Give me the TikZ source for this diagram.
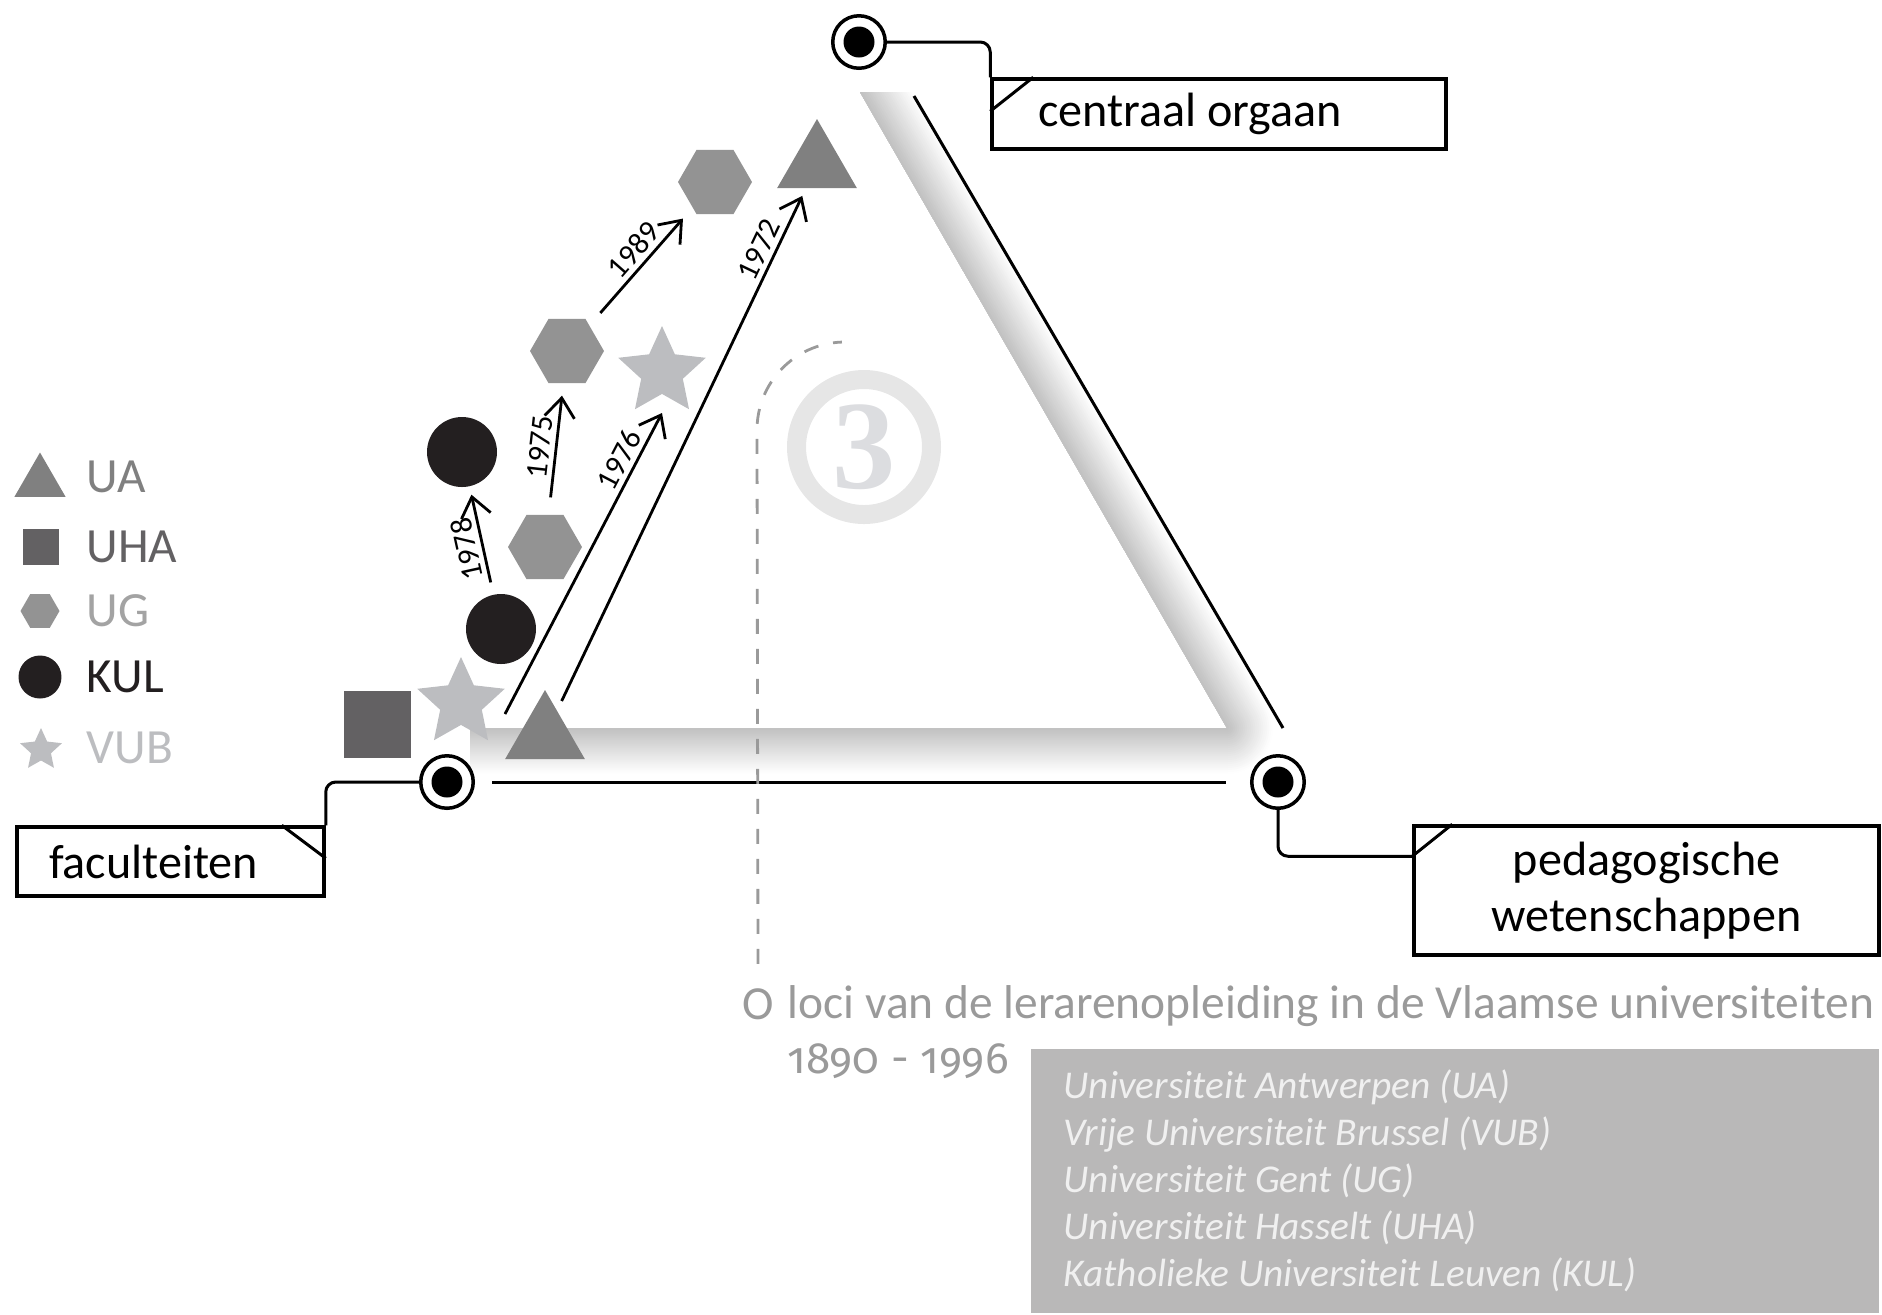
\documentclass[tikz,border=0pt]{standalone}
\usepackage{fontspec}
\setmainfont{Carlito}
\newfontfamily\oldstyle{Fira Sans}[Numbers=OldStyle]
\newfontfamily\ringfont{Liberation Serif}
\usepackage{tikz}
\usetikzlibrary{shapes.geometric}
\usetikzlibrary{arrows.meta}

\definecolor{uagray}{HTML}{808080}
\definecolor{uhagray}{HTML}{636163}
\definecolor{uggray}{HTML}{939393}
\definecolor{kulblack}{HTML}{231F20}
\definecolor{vubgray}{HTML}{BCBDC0}
\definecolor{ringgray}{HTML}{E6E6E6}
\definecolor{numgray}{HTML}{DCDDE0}
\definecolor{captiongray}{HTML}{9A9A9A}
\definecolor{boxgray}{HTML}{B9B8B8}

\tikzset{
  ua/.style={regular polygon, regular polygon sides=3, fill=uagray, inner sep=0pt},
  uha/.style={rectangle, fill=uhagray, inner sep=0pt},
  ug/.style={regular polygon, regular polygon sides=6, fill=uggray, inner sep=0pt},
  kul/.style={circle, fill=kulblack, inner sep=0pt},
  vub/.style={star, star points=5, star point ratio=2.1, fill=vubgray, inner sep=0pt},
  locus/.style={circle, draw=black, line width=0.035cm, fill=white, minimum size=0.525cm, inner sep=0pt,
    path picture={\fill[black] (path picture bounding box.center) circle (0.155cm);}},
  tagbox/.style={draw=black, line width=0.035cm, font=\fontsize{13.7}{16}\selectfont, inner ysep=0pt},
  leader/.style={line width=0.03cm, rounded corners=0.1cm},
  triside/.style={line width=0.03cm},
  yeararrow/.style={line width=0.028cm, -{Straight Barb[length=5.5pt, width=8.5pt]}},
  year/.style={font=\fontsize{8.8}{8.8}\selectfont, sloped, allow upside down, above, inner sep=1.3pt},
  legendtext/.style={anchor=west, font=\fontsize{14}{14}\selectfont, inner sep=0pt},
  pointer/.style={draw=captiongray, line width=0.028cm, dash pattern=on 0.15cm off 0.15cm},
}

\begin{document}
\begin{tikzpicture}[x=0.1mm, y=-0.1mm]
  \useasboundingbox (0,0) rectangle (1882,1314);

  % shadow along the triangle
  \begin{scope}
    \clip (420,728) -- (1227,728) -- (860,92) -- (1882,92) -- (1882,900) -- (420,900) -- cycle;
    \foreach \w [evaluate=\w as \c using {25-0.54*\w}] in {46,44,...,2}
      \draw[line width=\w*0.2mm, black!\c, line join=round] (470,728) -- (1227,728) -- (860,92);
  \end{scope}

  % circled number
  \node[circle, draw=ringgray, line width=0.19cm, minimum size=1.35cm, inner sep=0pt, text=numgray,
    font=\ringfont\bfseries\fontsize{36}{36}\selectfont] (three) at (864,447) {3};

  % corners
  \node[locus] (C) at (859,42) {};
  \node[locus] (F) at (447,782) {};
  \node[locus] (P) at (1278,782) {};

  % sides
  \draw[triside] ([xshift=0.45cm]F.center) -- ([xshift=-0.52cm]P.center);
  \draw[triside] ([shift={(0.55cm,-0.54cm)}]C.center) -- ([shift={(0.05cm,0.54cm)}]P.center);

  % caption and pointer
  \node[text=captiongray, font=\fontsize{13.5}{15}\selectfont, inner sep=0pt] (mark) at (758,1004) {O};
  \coordinate (bend) at (757,430);
  \draw[pointer] ([yshift=0.24cm]mark.north) -- (bend) arc[start angle=180, end angle=92, radius=0.88cm];
  \node[anchor=base west, text=captiongray, font=\fontsize{13.5}{15}\selectfont, inner sep=0pt] (caption) at (787,1018) {loci van de lerarenopleiding in de Vlaamse universiteiten};
  \node[anchor=base west, text=captiongray, font=\oldstyle\fontsize{12.5}{15}\selectfont, inner sep=0pt] (period) at (787,1073) {1890 - 1996};
  \node[fill=boxgray, anchor=north west, minimum width=8.48cm, minimum height=2.64cm, text width=7.82cm,
    inner xsep=0.33cm, align=flush left, text=white!94!black, font=\itshape\fontsize{11.2}{13.4}\selectfont] (unis) at (1030,1048)
    {Universiteit Antwerpen (UA)\\Vrije Universiteit Brussel (VUB)\\Universiteit Gent (UG)\\Universiteit Hasselt (UHA)\\Katholieke Universiteit Leuven (KUL)};

  % symbols
  \node[uha, minimum size=0.67cm] (uha1) at (377,724) {};
  \node[vub, minimum size=0.92cm] (vub1) at (461,703) {};
  \node[ua, minimum size=0.92cm] (ua1) at (545,736) {};
  \node[kul, minimum size=0.7cm] (kul1) at (501,629) {};
  \node[kul, minimum size=0.7cm] (kul2) at (462,452) {};
  \node[ug, minimum size=0.74cm] (ug1) at (545,547) {};
  \node[ug, minimum size=0.74cm] (ug2) at (567,351) {};
  \node[vub, minimum size=0.92cm] (vub2) at (662,372) {};
  \node[ug, minimum size=0.74cm] (ug3) at (715,182) {};
  \node[ua, minimum size=0.92cm] (ua2) at (817,165) {};

  % moves
  \draw[yeararrow, shorten <=0.12cm, shorten >=0.08cm] (kul1) -- node[year, pos=0.45] {1978} (kul2);
  \draw[yeararrow, shorten <=0.17cm, shorten >=0.12cm] (ug1) -- node[year] {1975} (ug2);
  \draw[yeararrow, shorten <=0.16cm, shorten >=0.14cm] (ug2) -- node[year, pos=0.55] {1989} (ug3);
  \draw[yeararrow] ([shift={(0.44cm,-0.11cm)}]vub1.center) -- node[year, pos=0.82] {1976} ([yshift=-0.41cm]vub2.center);
  \draw[yeararrow, shorten <=0.1cm, shorten >=0.08cm] (ua1) -- node[year, pos=0.87] {1972} (ua2);

  % labels
  \node[tagbox, text width=3.62cm, inner xsep=0.46cm, minimum height=0.7cm, align=flush left] (orgaan) at (1219,114) {centraal orgaan};
  \node[tagbox, text width=2.43cm, inner xsep=0.32cm, minimum height=0.69cm, align=flush left] (fac) at (170.5,861.5) {faculteiten};
  \node[tagbox, text width=4.25cm, inner xsep=0.2cm, minimum height=1.29cm, align=flush center] (ped) at (1646.5,890.5) {pedagogische\\wetenschappen};
  \draw[leader] (C) -| (orgaan.north west);
  \draw[leader] ([yshift=-0.34cm]orgaan.north west) -- ([xshift=0.43cm]orgaan.north west);
  \draw[leader] (F) -| (fac.north east);
  \draw[leader] ([xshift=-0.44cm]fac.north east) -- ([yshift=-0.33cm]fac.north east);
  \draw[leader] (P) |- ([yshift=-0.32cm]ped.north west);
  \draw[leader] ([yshift=-0.32cm]ped.north west) -- ([xshift=0.4cm]ped.north west);

  % legend
  \node[ua, minimum size=0.59cm] (lua) at (40,482) {};
  \node[legendtext, text=uagray] (tua) at (86,477) {UA};
  \node[uha, minimum size=0.36cm] (luha) at (41,547) {};
  \node[legendtext, text=uhagray] (tuha) at (86,547) {UHA};
  \node[ug, minimum size=0.39cm] (lug) at (40,611) {};
  \node[legendtext, text=uggray!85!white] (tug) at (86,611) {UG};
  \node[kul, minimum size=0.43cm] (lkul) at (40,677) {};
  \node[legendtext, text=kulblack] (tkul) at (86,677) {KUL};
  \node[vub, minimum size=0.44cm] (lvub) at (41,750) {};
  \node[legendtext, text=vubgray] (tvub) at (86,748) {VUB};
\end{tikzpicture}
\end{document}
